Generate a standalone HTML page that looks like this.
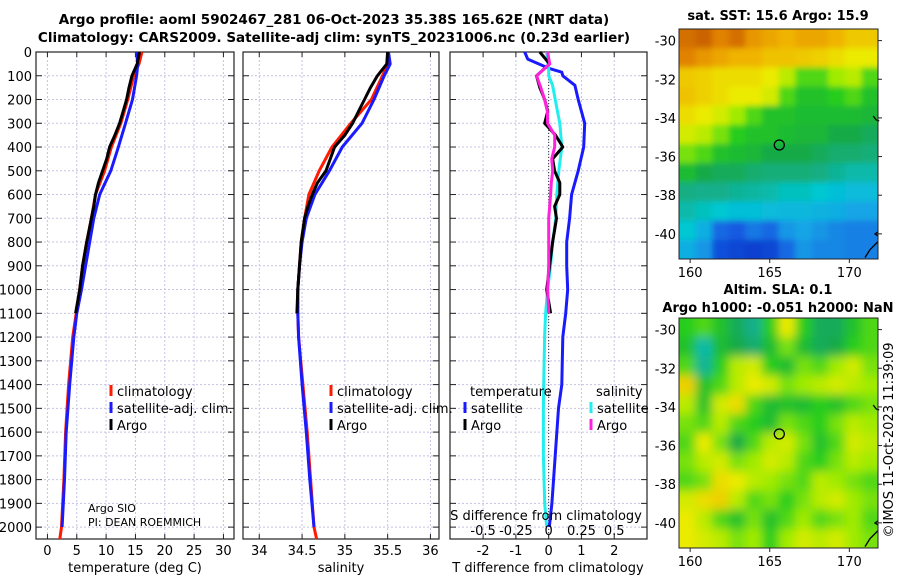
<!DOCTYPE html>
<html><head><meta charset="utf-8"><style>
html,body{margin:0;padding:0;background:#fff;}
svg{display:block;font-family:"DejaVu Sans","Liberation Sans",sans-serif;}
</style></head><body>
<svg id="c" width="900" height="580" viewBox="0 0 900 580">
<defs>
<filter id="blurS" x="-10%" y="-10%" width="120%" height="120%"><feGaussianBlur stdDeviation="3"/></filter>
<filter id="blurL" x="-10%" y="-10%" width="120%" height="120%"><feGaussianBlur stdDeviation="5"/></filter>
<clipPath id="clipTop"><rect x="679" y="29" width="199" height="230"/></clipPath>
<clipPath id="clipBot"><rect x="679" y="318" width="199" height="230"/></clipPath>
</defs>
<text x="334" y="24" text-anchor="middle" font-weight="bold" font-size="13.5">Argo profile: aoml 5902467_281 06-Oct-2023 35.38S 165.62E (NRT data)</text>
<text x="334" y="42" text-anchor="middle" font-weight="bold" font-size="13.5">Climatology: CARS2009. Satellite-adj clim: synTS_20231006.nc (0.23d earlier)</text>
<text x="778" y="20" text-anchor="middle" font-weight="bold" font-size="13">sat. SST: 15.6 Argo: 15.9</text>
<text x="778" y="294" text-anchor="middle" font-weight="bold" font-size="13">Altim. SLA: 0.1</text>
<text x="778" y="312" text-anchor="middle" font-weight="bold" font-size="13">Argo h1000: -0.051 h2000: NaN</text>
<text x="0" y="0" transform="translate(893,440) rotate(-90)" text-anchor="middle" font-size="13">©IMOS 11-Oct-2023 11:39:09</text>
</svg>
<script>
// ---- profile data ----
const tDepth=[0,50,100,200,300,400,500,600,700,800,900,1000,1100,1200,1400,1600,1800,2000,2050];
const tClim=[16.1,15.6,14.7,13.7,12.5,10.9,9.75,8.2,7.5,6.7,6.0,5.5,4.9,4.3,3.6,3.1,2.8,2.4,2.1];
const tSat=[15.2,15.4,15.2,14.5,13.3,12.1,10.8,8.9,7.9,7.2,6.5,5.8,5.0,4.5,3.8,3.2,2.9,2.5];
const argoDepth=[0,50,100,150,200,250,300,350,400,450,500,550,600,650,700,750,800,900,1000,1100];
const tArgo=[15.7,15.3,14.4,13.9,13.5,12.9,12.3,11.5,10.6,10.1,9.4,8.7,8.2,7.9,7.5,7.1,6.7,6.0,5.5,4.8];
const sClim=[35.51,35.5,35.44,35.31,35.07,34.85,34.70,34.58,34.53,34.49,34.47,34.45,34.45,34.46,34.51,34.56,34.6,34.64,34.67];
const sSat=[35.51,35.53,35.46,35.34,35.20,34.97,34.82,34.65,34.55,34.50,34.47,34.45,34.45,34.46,34.50,34.55,34.59,34.64];
const sArgo=[35.50,35.49,35.38,35.3,35.23,35.16,35.09,35.0,34.88,34.83,34.78,34.68,34.62,34.57,34.53,34.51,34.49,34.47,34.45,34.44];
const diffDepth=[0,30,70,85,100,140,200,300,400,500,600,700,800,900,1000,1100,1200,1400,1500,1700,1900,2000];
const dTSat=[-0.73,-0.64,0.03,0.4,0.43,0.8,0.9,1.1,1.07,0.9,0.7,0.64,0.55,0.55,0.58,0.52,0.43,0.4,0.3,0.2,0.1,0.02];
const dSSat=[-0.015,-0.01,0.0,0.0,0.0,0.03,0.05,0.085,0.1,0.077,0.062,0.054,0.031,0.015,-0.008,-0.023,-0.031,-0.038,-0.04,-0.04,-0.03,-0.015];
const dTArgo=[-0.27,0.03,-0.37,-0.27,-0.12,-0.03,-0.12,0.21,0.43,0.12,0.18,0.34,0.34,0.18,0.24,0.18,0.12,0.03,-0.06,0.06];
const dSArgo=[-0.008,0.008,-0.092,-0.06,-0.031,-0.01,-0.008,0.046,0.046,0.023,0.031,0.02,0.015,0.008,0.0,0.0,0.0,0.0,-0.008,0.0];
const depthTicks=[0,100,200,300,400,500,600,700,800,900,1000,1100,1200,1300,1400,1500,1600,1700,1800,1900,2000];
const tTicks=[0,5,10,15,20,25,30];
const sTicks=[34,34.5,35,35.5,36];
const dTTicks=[-2,-1,0,1,2];
const dSTickVals=[-0.5,-0.25,0,0.25,0.5];
const dSTickLabels=["-0.5","-0.25","0","0.25","0.5"];
// ---- map data (colormap index 0..1) ----
const mapLons=[159.3,171.8], mapLats=[-29.4,-41.3];
const sstGrid=[
[0.88,0.9,0.85,0.88,0.82,0.8,0.78,0.8,0.8,0.78,0.75,0.75],
[0.85,0.82,0.8,0.78,0.78,0.76,0.76,0.75,0.74,0.72,0.7,0.7],
[0.75,0.74,0.72,0.72,0.72,0.7,0.66,0.6,0.6,0.64,0.66,0.6],
[0.76,0.74,0.72,0.7,0.7,0.68,0.6,0.56,0.56,0.58,0.6,0.56],
[0.72,0.7,0.68,0.64,0.6,0.56,0.56,0.55,0.55,0.55,0.55,0.54],
[0.68,0.66,0.62,0.58,0.56,0.56,0.55,0.54,0.54,0.52,0.52,0.5],
[0.62,0.6,0.56,0.55,0.54,0.52,0.52,0.52,0.5,0.48,0.48,0.47],
[0.55,0.52,0.5,0.5,0.48,0.47,0.47,0.47,0.46,0.44,0.42,0.42],
[0.46,0.45,0.45,0.44,0.43,0.42,0.4,0.4,0.38,0.36,0.35,0.35],
[0.42,0.4,0.38,0.36,0.36,0.35,0.34,0.34,0.33,0.32,0.3,0.3],
[0.38,0.32,0.22,0.2,0.24,0.22,0.28,0.3,0.28,0.26,0.25,0.25],
[0.32,0.28,0.18,0.16,0.15,0.16,0.22,0.28,0.26,0.26,0.25,0.25]];
const slaGrid=[
[0.58,0.6,0.56,0.5,0.45,0.58,0.7,0.58,0.5,0.5,0.56,0.6],
[0.56,0.42,0.55,0.52,0.48,0.55,0.62,0.55,0.5,0.52,0.58,0.6],
[0.6,0.44,0.58,0.66,0.68,0.58,0.55,0.62,0.6,0.64,0.68,0.62],
[0.74,0.56,0.6,0.66,0.7,0.68,0.62,0.64,0.66,0.68,0.66,0.64],
[0.66,0.56,0.68,0.72,0.6,0.55,0.56,0.55,0.58,0.56,0.6,0.62],
[0.62,0.6,0.66,0.6,0.58,0.55,0.62,0.6,0.58,0.62,0.66,0.64],
[0.6,0.7,0.62,0.52,0.6,0.66,0.68,0.62,0.56,0.6,0.68,0.66],
[0.62,0.66,0.68,0.62,0.64,0.68,0.66,0.6,0.58,0.62,0.66,0.64],
[0.6,0.62,0.72,0.7,0.66,0.64,0.62,0.6,0.66,0.64,0.62,0.6],
[0.68,0.72,0.74,0.66,0.6,0.62,0.58,0.62,0.66,0.68,0.64,0.62],
[0.7,0.66,0.6,0.56,0.62,0.56,0.6,0.64,0.6,0.62,0.64,0.6],
[0.7,0.68,0.66,0.62,0.64,0.58,0.64,0.68,0.66,0.68,0.64,0.62]];
const argoPos=[165.6,-35.4];
const latTicks=[-30,-32,-34,-36,-38,-40];
const lonTicks=[160,165,170];

const NS='http://www.w3.org/2000/svg';
const svg=document.getElementById('c');
function mk(tag,attrs,parent){const e=document.createElementNS(NS,tag);for(const k in attrs)e.setAttribute(k,attrs[k]);(parent||svg).appendChild(e);return e;}
function txt(x,y,s,size,anchor,parent){const e=mk('text',{x:x,y:y,'font-size':size,'text-anchor':anchor||'middle'},parent);e.textContent=s;return e;}

const PY0=52, PY1=539, D0=0, D1=2050;
const yD=d=>PY0+(d-D0)/(D1-D0)*(PY1-PY0);
const panels=[
 {name:'temperature-panel',x0:36,x1:234,v0:-1.95,v1:31.8},
 {name:'salinity-panel',x0:243,x1:439,v0:33.81,v1:36.1},
 {name:'difference-panel',x0:450,x1:647,v0:-3.01,v1:3.0}];
function sx(p,v){return p.x0+(v-p.v0)/(p.v1-p.v0)*(p.x1-p.x0);}

function frame(p,xt,xlabels,ytickLabels){
 const g=mk('g',{});
 
 
 xt.forEach(v=>{const x=sx(p,v);
  const l=mk('line',{x1:x,x2:x,y1:PY0,y2:PY1,stroke:'#c4c4e4','stroke-width':1,'stroke-dasharray':'2,2'},g);
  
  mk('line',{x1:x,x2:x,y1:PY1,y2:PY1-5,stroke:'#222'},g);mk('line',{x1:x,x2:x,y1:PY0,y2:PY0+5,stroke:'#222'},g);});
 depthTicks.forEach(d=>{const y=yD(d);
  const l=mk('line',{x1:p.x0,x2:p.x1,y1:y,y2:y,stroke:'#c4c4e4','stroke-width':1,'stroke-dasharray':'2,2'},g);
  
  mk('line',{x1:p.x0,x2:p.x0+6,y1:y,y2:y,stroke:'#222'},g);mk('line',{x1:p.x1,x2:p.x1-6,y1:y,y2:y,stroke:'#222'},g);
  if(ytickLabels){const t=txt(p.x0-4,y+5,String(d),13,'end',g);}});
 const r=mk('rect',{x:p.x0,y:PY0,width:p.x1-p.x0,height:PY1-PY0,fill:'none',stroke:'#222','stroke-width':1.2},g);
 
 xt.forEach((v,i)=>{const t=txt(sx(p,v),555,xlabels[i],13,'middle',g);});
 return g;
}
function line(p,xs,ds,color,name,conv,w){
 const pts=xs.map((v,i)=>sx(p,conv?conv(v):v).toFixed(1)+','+yD(ds[i]).toFixed(1)).join(' ');
 const e=mk('polyline',{points:pts,fill:'none',stroke:color,'stroke-width':w||3,'stroke-linejoin':'round'});
 
 
}
const P1=panels[0],P2=panels[1],P3=panels[2];
frame(P1,tTicks,tTicks.map(String),true);
frame(P2,sTicks,sTicks.map(String),false);
frame(P3,dTTicks,dTTicks.map(String),false);
const z=mk('line',{x1:sx(P3,0),x2:sx(P3,0),y1:PY0,y2:PY1,stroke:'#333','stroke-width':1,'stroke-dasharray':'1,2'});


line(P1,tClim,tDepth,'#ff1a00','temperature-climatology-line');
line(P1,tSat,tDepth.slice(0,tSat.length),'#1a1aff','temperature-satellite-line');
line(P1,tArgo,argoDepth,'#000','temperature-argo-line');
line(P2,sClim,tDepth,'#ff1a00','salinity-climatology-line');
line(P2,sSat,tDepth.slice(0,sSat.length),'#1a1aff','salinity-satellite-line');
line(P2,sArgo,argoDepth,'#000','salinity-argo-line');
const sConv=v=>v*4;
line(P3,dTSat,diffDepth,'#1a1aff','t-diff-satellite-line');
line(P3,dSSat,diffDepth,'#22eeee','s-diff-satellite-line',sConv);
line(P3,dTArgo,argoDepth,'#000','t-diff-argo-line');
line(P3,dSArgo,argoDepth,'#ff22dd','s-diff-argo-line',sConv);

function leg(x,y,color,label,name){const g=mk('g',{});
 mk('rect',{x:x-1.5,y:y-11,width:3,height:11,fill:color},g);txt(x+6,y,label,13,'start',g);}
leg(111,396,'#ff1a00','climatology','legend-temp-climatology');
leg(111,413,'#1a1aff','satellite-adj. clim.','legend-temp-satellite');
leg(111,430,'#000','Argo','legend-temp-argo');
leg(331,396,'#ff1a00','climatology','legend-sal-climatology');
leg(331,413,'#1a1aff','satellite-adj. clim.','legend-sal-satellite');
leg(331,430,'#000','Argo','legend-sal-argo');
let t=txt(470,396,'temperature',13,'start');
t=txt(596,396,'salinity',13,'start');
leg(465,413,'#1a1aff','satellite','legend-tdiff-satellite');
leg(465,430,'#000','Argo','legend-tdiff-argo');
leg(591,413,'#22eeee','satellite','legend-sdiff-satellite');
leg(591,430,'#ff22dd','Argo','legend-sdiff-argo');
t=txt(88,512,'Argo SIO',11,'start');
t=txt(88,526,'PI: DEAN ROEMMICH',11,'start');
t=txt(546,520,'S difference from climatology',13,'middle');
dSTickVals.forEach((v,i)=>{const e=txt(sx(P3,v*4),535,dSTickLabels[i],13,'middle');});
t=txt(135,572,'temperature (deg C)',13);
t=txt(341,572,'salinity',13);
t=txt(548,572,'T difference from climatology',13);

const cmap=[[0.1,[0,40,190]],[0.2,[20,90,225]],[0.3,[20,165,230]],[0.38,[0,200,210]],[0.45,[20,175,140]],[0.52,[20,170,70]],[0.58,[40,205,30]],[0.64,[160,235,0]],[0.7,[235,235,0]],[0.78,[240,180,0]],[0.85,[225,130,0]],[0.93,[190,80,0]]];
function col(v){if(v<=cmap[0][0])return 'rgb('+cmap[0][1]+')';
 for(let i=1;i<cmap.length;i++){if(v<=cmap[i][0]){const a=cmap[i-1],b=cmap[i],f=(v-a[0])/(b[0]-a[0]);return 'rgb('+a[1].map((c,k)=>Math.round(c+(b[1][k]-c)*f)).join(',')+')';}}
 return 'rgb('+cmap[cmap.length-1][1]+')';}
function drawMap(name,grid,X0,X1,Y0,Y1,clipId,filterId){
 const lx=lon=>X0+(lon-mapLons[0])/(mapLons[1]-mapLons[0])*(X1-X0);
 const ly=lat=>Y0+(lat-mapLats[0])/(mapLats[1]-mapLats[0])*(Y1-Y0);
 const g=mk('g',{});
 const cg=mk('g',{'clip-path':'url(#'+clipId+')'},g);
 const fg=mk('g',{filter:'url(#'+filterId+')'},cg);
 const rows=grid.length,cols=grid[0].length,cw=(X1-X0)/cols,ch=(Y1-Y0)/rows,pad=14;
 grid.forEach((row,r)=>row.forEach((v,c)=>{
  let x=X0+c*cw,y=Y0+r*ch,w=cw+0.6,h=ch+0.6;
  if(c===0){x-=pad;w+=pad;} if(c===cols-1){w+=pad;}
  if(r===0){y-=pad;h+=pad;} if(r===rows-1){h+=pad;}
  const e=mk('rect',{x:x,y:y,width:w,height:h,fill:col(v)},fg);
  }));
 const cl=mk('path',{d:`M${lx(171.5)},${ly(-33.9)} l3,4 l3,1 M${lx(171.8)},${ly(-39.9)} l-3,2 l3,2 M${X1},${ly(-40.4)} l-8,8 l-5,8`,fill:'none',stroke:'#000','stroke-width':1.3},g);
 
 const c=mk('circle',{cx:lx(argoPos[0]),cy:ly(argoPos[1]),r:5,fill:'none',stroke:'#000','stroke-width':1.3},g);
 
 mk('rect',{x:X0,y:Y0,width:X1-X0,height:Y1-Y0,fill:'none',stroke:'#222','stroke-width':1},g);
 latTicks.forEach(lat=>{const y=ly(lat);mk('line',{x1:X1,x2:X1+4,y1:y,y2:y,stroke:'#222'},g);
  const e=txt(X0-3,y+5,String(lat),13,'end',g);});
 lonTicks.forEach(lon=>{const x=lx(lon);mk('line',{x1:x,x2:x,y1:Y1,y2:Y1+4,stroke:'#222'},g);
  const e=txt(x,Y1+18,String(lon),13,'middle',g);});
}
drawMap('sst-map',sstGrid,679,878,29,259,'clipTop','blurS');
drawMap('sla-map',slaGrid,679,878,318,548,'clipBot','blurL');
</script>
</body></html>
